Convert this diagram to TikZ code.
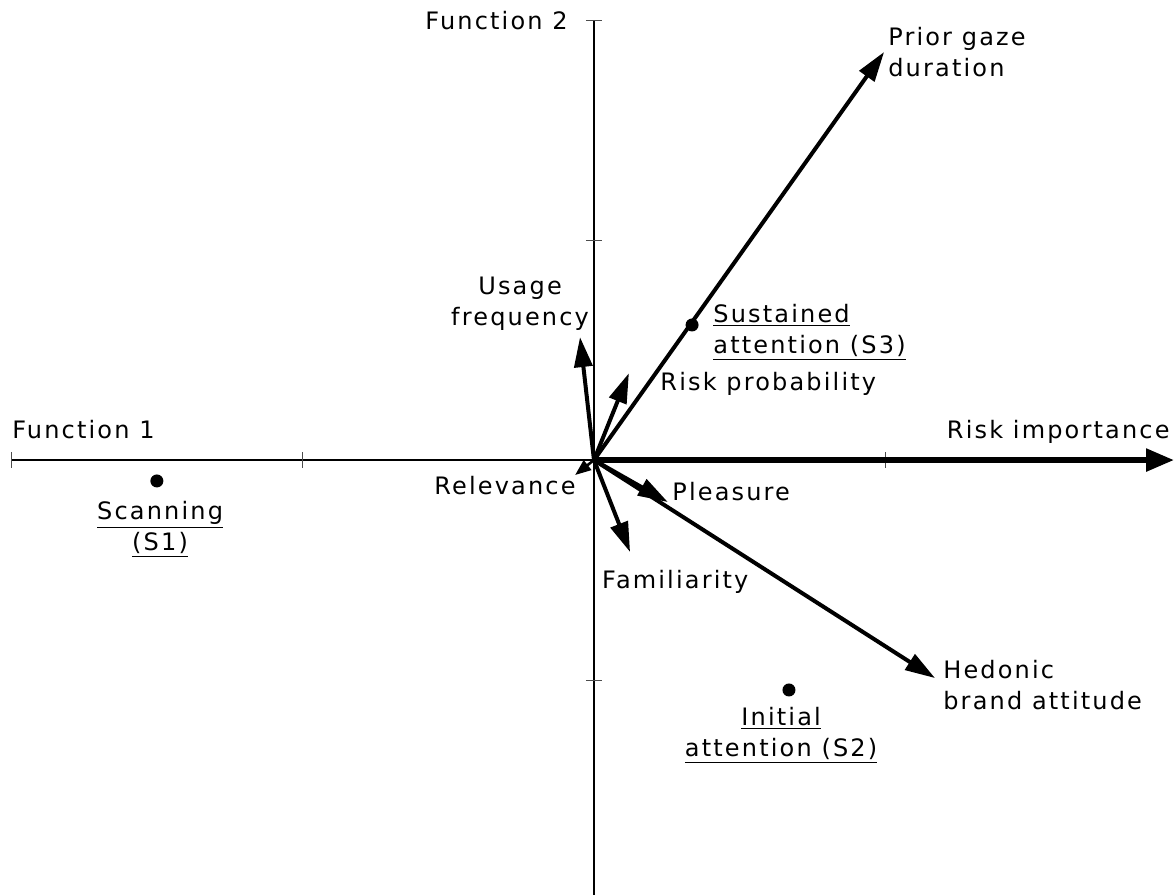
\documentclass[tikz,border=0pt]{standalone}
\usepackage{fontspec}
\setmainfont{DejaVu Sans}[LetterSpace=9]
\usetikzlibrary{arrows.meta}
\tikzset{
  vec/.style={line width=2pt,-{Triangle[length=15pt,width=9pt]}},
  lbl/.style={inner sep=0pt,font=\fontsize{12}{15.5}\selectfont},
  pnt/.style={circle,fill=black,inner sep=0pt,minimum size=6.5pt},
  tick/.style={gray!60!black,line width=0.5pt},
}
\begin{document}
\begin{tikzpicture}[x=145.5pt,y=110pt]
        \useasboundingbox (-2.041,-1.973) rectangle (1.993,2.091);
        % axes
        \draw[line width=1.3pt] (-2,0)--(1.9,0);
        \draw[line width=1.3pt] (0,2)--(0,-1.98);
        \foreach \x in {-2,-1,1} \draw[shift={(\x,0)},tick] (0pt,4pt)--(0pt,-4pt);
        \foreach \y in {-1,1,2} \draw[shift={(0,\y)},tick] (-4pt,0pt)--(4pt,0pt);
        \node[lbl,anchor=base west](fone)at(-2.0,0.10){Function 1};
        \node[lbl,anchor=base east](ftwo)at(-0.089,1.955){Function 2};
        % vectors
        \coordinate (O) at (0,0);
        \coordinate (prior) at (0.997,1.855);
        \coordinate (usage) at (-0.048,0.559);
        \coordinate (riskp) at (0.120,0.395);
        \coordinate (relev) at (-0.065,-0.068);
        \coordinate (pleas) at (0.254,-0.191);
        \coordinate (famil) at (0.124,-0.418);
        \coordinate (hedon) at (1.172,-0.991);
        \coordinate (riski) at (1.993,0);
        \draw[vec](O)--(prior);
        \draw[vec](O)--(usage);
        \draw[vec](O)--(riskp);
        \draw[vec,line width=1.3pt,-{Triangle[length=8pt,width=6pt]}](O)--(relev);
        \draw[vec](O)--(pleas);
        \draw[vec](O)--(famil);
        \draw[vec](O)--(hedon);
        \draw[vec,line width=2.8pt,-{Triangle[length=14pt,width=11pt]}](O)--(riski);
        \node[lbl,align=left,anchor=west](priorlbl)at(1.010,1.855){Prior gaze\\duration};
        \node[lbl,align=center](usagelbl)at(-0.254,0.709){Usage\\frequency};
        \node[lbl,anchor=base west](riskplbl)at(0.227,0.318){Risk probability};
        \node[lbl,anchor=base east](relevlbl)at(-0.062,-0.155){Relevance};
        \node[lbl,anchor=base west](pleaslbl)at(0.268,-0.182){Pleasure};
        \node[lbl,anchor=base west](famillbl)at(0.027,-0.582){Familiarity};
        \node[lbl,align=left,anchor=west](hedonlbl)at(1.199,-1.023){Hedonic\\brand attitude};
        \node[lbl,anchor=base east](riskilbl)at(1.979,0.10){Risk importance};
        % segments
        \node[pnt](sone)at(-1.502,-0.095){};
        \node[pnt](sthree)at(0.337,0.614){};
        \node[pnt](stwo)at(0.670,-1.045){};
        \node[lbl,align=center](sonelbl)at(-1.491,-0.314){\underline{Scanning}\\\underline{(S1)}};
        \node[lbl,align=left,anchor=west](sthreelbl)at(0.409,0.582){\underline{Sustained}\\\underline{attention (S3)}};
        \node[lbl,align=center](stwolbl)at(0.643,-1.25){\underline{Initial}\\\underline{attention (S2)}};
    \end{tikzpicture}
\end{document}
